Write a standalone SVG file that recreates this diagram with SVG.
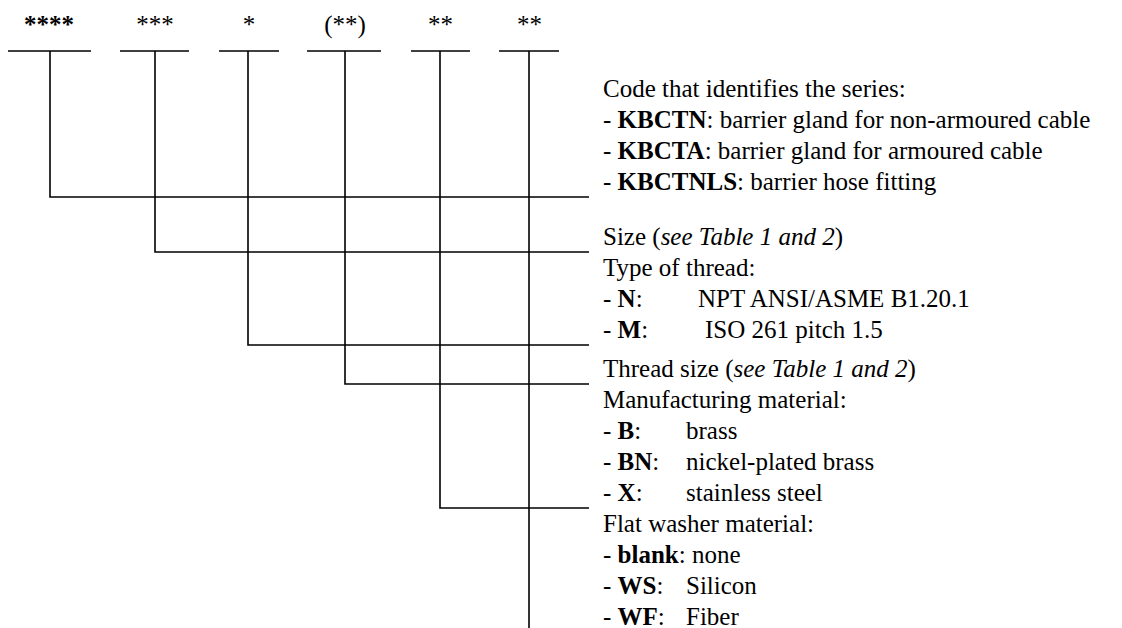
<svg xmlns="http://www.w3.org/2000/svg" width="1122" height="628" viewBox="0 0 1122 628">
<style>
  .ln { stroke: #000; stroke-width: 1.6; fill: none; }
  .hd { font-family: "Liberation Serif", "Times New Roman", serif; font-size: 25px; fill: #000; text-anchor: middle; }
  .tx { font-family: "Liberation Serif", "Times New Roman", serif; font-size: 25px; fill: #000; }
  .b { font-weight: bold; }
  .i { font-style: italic; }
</style>
<rect width="1122" height="628" fill="#fff"/>
<g id="field-series">
  <text class="hd b" x="49" y="33">****</text>
  <line class="ln" x1="8" y1="51" x2="91" y2="51"/>
</g>
<g id="field-size">
  <text class="hd" x="155" y="33">***</text>
  <line class="ln" x1="120" y1="51" x2="189" y2="51"/>
</g>
<g id="field-thread-type">
  <text class="hd" x="249" y="33">*</text>
  <line class="ln" x1="219" y1="51" x2="279" y2="51"/>
</g>
<g id="field-thread-size">
  <text class="hd" x="345" y="33">(**)</text>
  <line class="ln" x1="307" y1="51" x2="381" y2="51"/>
</g>
<g id="field-material">
  <text class="hd" x="440.5" y="33">**</text>
  <line class="ln" x1="411" y1="51" x2="470" y2="51"/>
</g>
<g id="field-washer">
  <text class="hd" x="529.5" y="33">**</text>
  <line class="ln" x1="499" y1="51" x2="559" y2="51"/>
</g>
<g id="connectors">
  <path class="ln" d="M50 51 V197 H589"/>
  <path class="ln" d="M155 51 V252 H589"/>
  <path class="ln" d="M248 51 V345 H589"/>
  <path class="ln" d="M345 51 V384 H589"/>
  <path class="ln" d="M440 51 V508 H589"/>
  <path class="ln" d="M529 51 V628"/>
</g>
<g id="desc-series">
  <text class="tx" x="603" y="97">Code that identifies the series:</text>
  <text class="tx" x="603" y="128">- <tspan class="b">KBCTN</tspan>: barrier gland for non-armoured cable</text>
  <text class="tx" x="603" y="159">- <tspan class="b">KBCTA</tspan>: barrier gland for armoured cable</text>
  <text class="tx" x="603" y="190">- <tspan class="b">KBCTNLS</tspan>: barrier hose fitting</text>
</g>
<g id="desc-size">
  <text class="tx" x="603" y="245">Size (<tspan class="i">see Table 1 and 2</tspan>)</text>
</g>
<g id="desc-thread-type">
  <text class="tx" x="603" y="276">Type of thread:</text>
  <text class="tx" x="603" y="307">- <tspan class="b">N</tspan>:<tspan x="698">NPT ANSI/ASME B1.20.1</tspan></text>
  <text class="tx" x="603" y="338">- <tspan class="b">M</tspan>:<tspan x="705">ISO 261 pitch 1.5</tspan></text>
</g>
<g id="desc-thread-size">
  <text class="tx" x="603" y="377">Thread size (<tspan class="i">see Table 1 and 2</tspan>)</text>
</g>
<g id="desc-material">
  <text class="tx" x="603" y="408">Manufacturing material:</text>
  <text class="tx" x="603" y="439">- <tspan class="b">B</tspan>:<tspan x="686">brass</tspan></text>
  <text class="tx" x="603" y="470">- <tspan class="b">BN</tspan>:<tspan x="686">nickel-plated brass</tspan></text>
  <text class="tx" x="603" y="501">- <tspan class="b">X</tspan>:<tspan x="686">stainless steel</tspan></text>
</g>
<g id="desc-washer">
  <text class="tx" x="603" y="532">Flat washer material:</text>
  <text class="tx" x="603" y="563">- <tspan class="b">blank</tspan>: none</text>
  <text class="tx" x="603" y="594">- <tspan class="b">WS</tspan>:<tspan x="686">Silicon</tspan></text>
  <text class="tx" x="603" y="625">- <tspan class="b">WF</tspan>:<tspan x="686">Fiber</tspan></text>
</g>
</svg>
